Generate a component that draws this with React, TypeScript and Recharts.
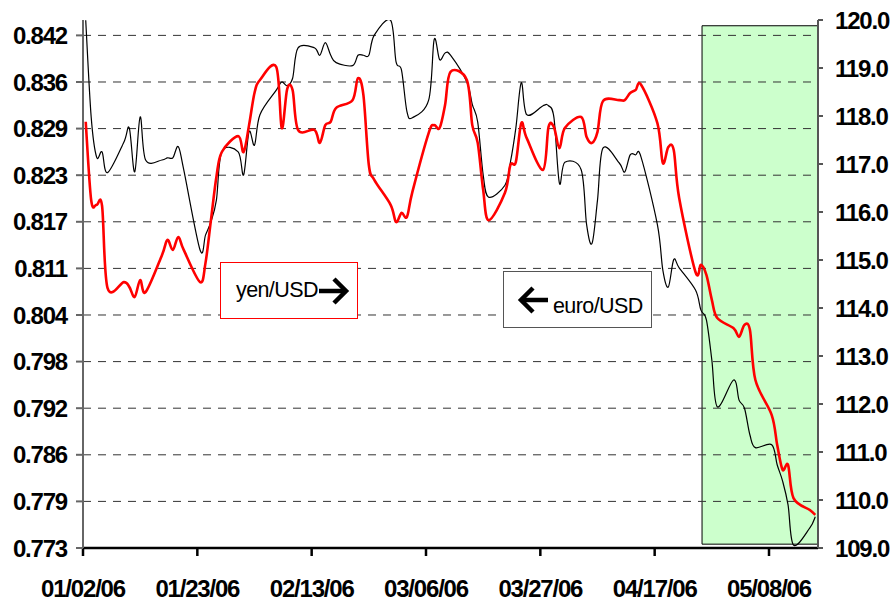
import React from 'react';
import { LineChart, Line, XAxis, YAxis, ReferenceArea, ReferenceLine } from 'recharts';

// trading days, Jan 2 - May 16 2006
const DATES = [
  '01/02/06', '01/03/06', '01/04/06', '01/05/06', '01/06/06',
  '01/09/06', '01/10/06', '01/11/06', '01/12/06', '01/13/06',
  '01/16/06', '01/17/06', '01/18/06', '01/19/06', '01/20/06',
  '01/23/06', '01/24/06', '01/25/06', '01/26/06', '01/27/06',
  '01/30/06', '01/31/06', '02/01/06', '02/02/06', '02/03/06',
  '02/06/06', '02/07/06', '02/08/06', '02/09/06', '02/10/06',
  '02/13/06', '02/14/06', '02/15/06', '02/16/06', '02/17/06',
  '02/20/06', '02/21/06', '02/22/06', '02/23/06', '02/24/06',
  '02/27/06', '02/28/06', '03/01/06', '03/02/06', '03/03/06',
  '03/06/06', '03/07/06', '03/08/06', '03/09/06', '03/10/06',
  '03/13/06', '03/14/06', '03/15/06', '03/16/06', '03/17/06',
  '03/20/06', '03/21/06', '03/22/06', '03/23/06', '03/24/06',
  '03/27/06', '03/28/06', '03/29/06', '03/30/06', '03/31/06',
  '04/03/06', '04/04/06', '04/05/06', '04/06/06', '04/07/06',
  '04/10/06', '04/11/06', '04/12/06', '04/13/06', '04/14/06',
  '04/17/06', '04/18/06', '04/19/06', '04/20/06', '04/21/06',
  '04/24/06', '04/25/06', '04/26/06', '04/27/06', '04/28/06',
  '05/01/06', '05/02/06', '05/03/06', '05/04/06', '05/05/06',
  '05/08/06', '05/09/06', '05/10/06', '05/11/06', '05/12/06',
  '05/15/06', '05/16/06',
];

const EURO = [
  0.8440, 0.8310, 0.8256, 0.8263, 0.8235,
  0.8276, 0.8295, 0.8236, 0.8310, 0.8252,
  0.8252, 0.8255, 0.8255, 0.8270, 0.8239,
  0.8131, 0.8151, 0.8169, 0.8198, 0.8263,
  0.8263, 0.8232, 0.8290, 0.8272, 0.8313,
  0.8346, 0.8357, 0.8352, 0.8362, 0.8403,
  0.8403, 0.8393, 0.8410, 0.8393, 0.8383,
  0.8379, 0.8393, 0.8393, 0.8393, 0.8420,
  0.8440, 0.8384, 0.8373, 0.8317, 0.8309,
  0.8333, 0.8414, 0.8387, 0.8396, 0.8393,
  0.8357, 0.8327, 0.8303, 0.8232, 0.8202,
  0.8218, 0.8249, 0.8295, 0.8356, 0.8313,
  0.8325, 0.8325, 0.8309, 0.8221, 0.8249,
  0.8239, 0.8165, 0.8140, 0.8198, 0.8268,
  0.8248, 0.8236, 0.8259, 0.8259, 0.8256,
  0.8165, 0.8104, 0.8081, 0.8118, 0.8107,
  0.8077, 0.8050, 0.8037, 0.7983, 0.7920,
  0.7956, 0.7929, 0.7918, 0.7882, 0.7865,
  0.7869, 0.7842, 0.7820, 0.7788, 0.7734,
  0.7757, 0.7772,
];

const YEN = [
  117.88, 116.25, 116.15, 116.13, 114.42,
  114.54, 114.44, 114.23, 114.58, 114.33,
  115.10, 115.42, 115.21, 115.48, 115.21,
  114.54, 114.94, 115.83, 116.73, 117.25,
  117.58, 117.25, 117.81, 118.48, 118.75,
  119.02, 117.75, 118.56, 118.54, 117.71,
  117.71, 117.44, 117.81, 117.88, 118.17,
  118.33, 118.79, 118.44, 116.98, 116.67,
  116.15, 115.79, 115.98, 115.90, 116.42,
  117.65, 117.81, 117.75, 118.23, 118.92,
  118.75, 117.81, 117.44, 116.46, 115.83,
  116.40, 116.98, 117.04, 117.85, 117.54,
  116.88, 117.77, 117.77, 117.33, 117.75,
  117.98, 117.56, 117.44, 117.67, 118.31,
  118.33, 118.33, 118.48, 118.54, 118.65,
  117.85, 117.02, 117.35, 117.29, 116.29,
  114.75, 114.90, 114.69, 114.17, 113.79,
  113.58, 113.40, 113.65, 113.54, 112.50,
  111.77, 111.15, 110.63, 110.73, 110.04,
  109.79, 109.69,
];

const X_TICKS = ['01/02/06', '01/23/06', '02/13/06', '03/06/06', '03/27/06', '04/17/06', '05/08/06'];
const EURO_TICKS = [0.773, 0.77927, 0.78554, 0.79181, 0.79808, 0.80435, 0.81062, 0.81689, 0.82316, 0.82943, 0.8357, 0.84197];
const YEN_TICKS = [109, 110, 111, 112, 113, 114, 115, 116, 117, 118, 119, 120];

const dayOf = (s: string) => {
  const [m, d] = s.split('/').map(Number);
  return Math.round((Date.UTC(2006, m - 1, d) - Date.UTC(2006, 0, 2)) / 86400000);
};

// excel date axis puts each point in the middle of its day
const data = DATES.map((d, i) => ({ x: dayOf(d) + 0.5, euro: EURO[i], yen: YEN[i] }));
const xTicks = X_TICKS.map(dayOf);
const tickLabel = (v: number) => X_TICKS[xTicks.indexOf(v)] ?? '';

// excel-style smoothed line (catmull-rom through every point)
const smooth = (ctx: any) => {
  let pts: number[][] = [];
  return {
    areaStart() {},
    areaEnd() {},
    lineStart() {
      pts = [];
    },
    lineEnd() {
      if (!pts.length) return;
      ctx.moveTo(pts[0][0], pts[0][1]);
      const n = pts.length;
      for (let i = 0; i < n - 1; i++) {
        const p0 = pts[Math.max(i - 1, 0)];
        const p1 = pts[i];
        const p2 = pts[i + 1];
        const p3 = pts[Math.min(i + 2, n - 1)];
        ctx.bezierCurveTo(
          p1[0] + (p2[0] - p0[0]) / 6, p1[1] + (p2[1] - p0[1]) / 6,
          p2[0] - (p3[0] - p1[0]) / 6, p2[1] - (p3[1] - p1[1]) / 6,
          p2[0], p2[1],
        );
      }
    },
    point(x: number, y: number) {
      pts.push([+x, +y]);
    },
  };
};

const FONT = '"Liberation Sans", Arial, sans-serif';
const tickStyle = { fontSize: 24, fontWeight: 'bold', fill: '#000', fontFamily: FONT, letterSpacing: -1.2 };

const Arrow = ({ dir }: { dir: 'left' | 'right' }) => (
  <svg width={32} height={30} viewBox="0 0 32 30" style={{ display: 'block' }}>
    <g stroke="#000" strokeWidth={4.5} fill="none">
      {dir === 'right' ? (
        <>
          <line x1={1} y1={15} x2={28} y2={15} />
          <polyline points="16,3 28,15 16,27" />
        </>
      ) : (
        <>
          <line x1={4} y1={15} x2={31} y2={15} />
          <polyline points="16,3 4,15 16,27" />
        </>
      )}
    </g>
  </svg>
);

export default function App() {
  return (
    <div style={{ position: 'absolute', left: 0, top: 0, width: 895, height: 602, background: '#fff', overflow: 'hidden' }}>
      <LineChart width={895} height={602} data={data} margin={{ top: 20, right: 0, bottom: 0, left: 0 }}>
        <XAxis
          dataKey="x"
          type="number"
          domain={[0, 135]}
          ticks={xTicks}
          tickFormatter={tickLabel}
          height={54}
          tickSize={8}
          tickMargin={24}
          stroke="#000"
          strokeWidth={2.5}
          tick={tickStyle}
        />
        <YAxis
          yAxisId="euro"
          orientation="left"
          domain={[0.773, 0.84404]}
          ticks={EURO_TICKS}
          tickFormatter={(v: number) => v.toFixed(3)}
          width={83}
          tickSize={7}
          tickMargin={9}
          stroke="#666"
          strokeWidth={2}
          tick={tickStyle}
          allowDataOverflow
        />
        <YAxis
          yAxisId="yen"
          orientation="right"
          domain={[109, 120]}
          ticks={YEN_TICKS}
          tickFormatter={(v: number) => v.toFixed(1)}
          width={77}
          tickSize={5}
          tickMargin={12}
          stroke="#555"
          strokeWidth={2}
          tick={{ ...tickStyle, textAnchor: 'start' }}
        />
        <ReferenceArea
          yAxisId="yen"
          x1={113.7}
          x2={135}
          y1={109.08}
          y2={119.88}
          fill="#ccffcc"
          fillOpacity={1}
          stroke="#000"
          strokeWidth={1}
        />
        {EURO_TICKS.slice(1).map((t) => (
          <ReferenceLine key={t} yAxisId="euro" y={t} stroke="#333" strokeWidth={1} strokeDasharray="8 7" />
        ))}
        <Line
          yAxisId="euro"
          dataKey="euro"
          type={smooth as any}
          stroke="#000"
          strokeWidth={1.2}
          dot={false}
          isAnimationActive={false}
        />
        <Line
          yAxisId="yen"
          dataKey="yen"
          type={smooth as any}
          stroke="#ff0000"
          strokeWidth={2.6}
          dot={false}
          isAnimationActive={false}
        />
      </LineChart>

      <div
        style={{
          position: 'absolute', left: 220, top: 262, width: 138, height: 57, boxSizing: 'border-box',
          border: '1px solid #ff0000', background: '#fff', display: 'flex', alignItems: 'center',
          paddingLeft: 15, fontFamily: FONT, fontSize: 21.5, letterSpacing: -0.6, color: '#000',
        }}
      >
        <span>yen/USD</span>
        <Arrow dir="right" />
      </div>
      <div
        style={{
          position: 'absolute', left: 503, top: 271, width: 149, height: 57, boxSizing: 'border-box',
          border: '1px solid #555', background: '#fff', display: 'flex', alignItems: 'center',
          paddingLeft: 13, fontFamily: FONT, fontSize: 21.5, letterSpacing: -0.6, color: '#000',
        }}
      >
        <Arrow dir="left" />
        <span style={{ marginLeft: 4, marginTop: 14 }}>euro/USD</span>
      </div>
    </div>
  );
}
